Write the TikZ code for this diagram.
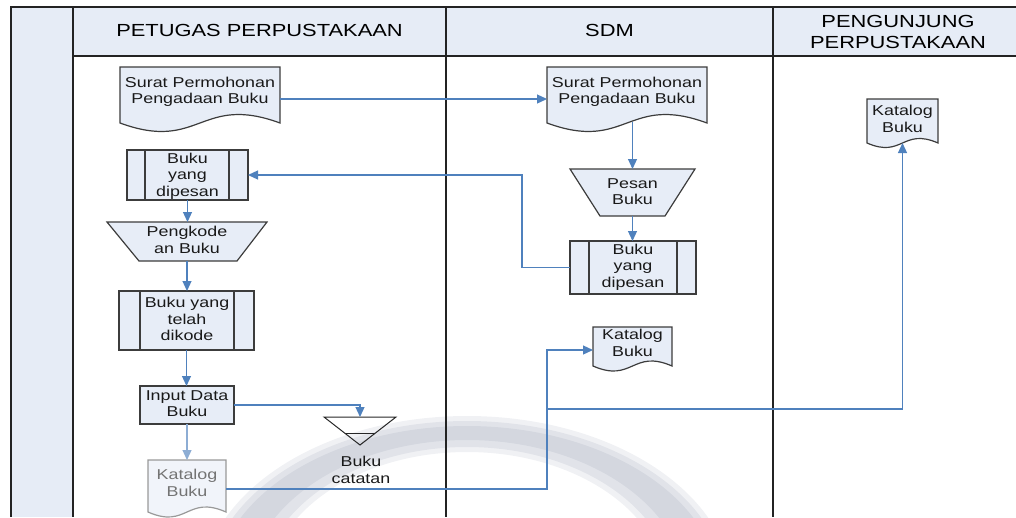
\documentclass[tikz,border=0pt]{standalone}
\usepackage{fontspec}
\setmainfont{Liberation Sans}[FakeStretch=1.25]
\usetikzlibrary{arrows.meta,calc}
\definecolor{lanefill}{RGB}{230,236,246}
\definecolor{shapefill}{RGB}{231,237,247}
\definecolor{conn}{RGB}{79,129,189}
\definecolor{edgec}{RGB}{60,60,60}
\definecolor{laneline}{RGB}{35,35,35}
\definecolor{ringc}{RGB}{172,178,194}
\newcommand{\docshape}[6]{%
 \draw[#1] (#2,#3) -- (#4,#3) -- (#4,#5) .. controls ({(#2+#4)/2},{#5-3.46*#6}) and ({(#2+#4)/2},{#5+3.46*#6}) .. (#2,#5) -- cycle;}
\begin{document}
\begin{tikzpicture}[x=1pt,y=-1pt,
 lane/.style={draw=laneline, line width=1.7pt},
 shp/.style={draw=edgec, fill=shapefill, line width=1.2pt},
 shpfaded/.style={draw=gray!80, fill=shapefill!60, line width=1.2pt},
 inner/.style={draw=edgec, line width=1.2pt},
 box/.style={inner sep=0pt, outer sep=0pt, draw=none},
 txt/.style={font=\fontsize{14.3}{16.5}\selectfont, align=center, inner sep=0pt, text=black!90},
 hdr/.style={font=\fontsize{17.5}{21}\selectfont, align=center, inner sep=0pt, text=black},
 flow/.style={draw=conn, line width=1.2pt, -{Triangle[length=10pt,width=9pt]}},
 flowfaded/.style={draw=conn!65, line width=1.2pt, -{Triangle[length=10pt,width=9pt]}},
 ring/.style={fill=ringc, even odd rule},
]
\useasboundingbox (0,0) rectangle (1016,517);
% lanes
\fill[lanefill] (11,7) rectangle (73,517);
\fill[lanefill] (73,7) rectangle (1016,56);
% watermark ring (soft)
\fill[ring, opacity=0.18] (467,592) ellipse [x radius=266pt, y radius=176pt] (467,592) ellipse [x radius=200pt, y radius=140pt];
\fill[ring, opacity=0.22] (467,592) ellipse [x radius=260pt, y radius=171pt] (467,592) ellipse [x radius=207pt, y radius=145pt];
\fill[ring, opacity=0.25] (467,592) ellipse [x radius=253pt, y radius=166pt] (467,592) ellipse [x radius=220pt, y radius=152pt];
\draw[lane] (11,517) -- (11,7) -- (1016,7);
\draw[lane] (73,7) -- (73,517);
\draw[lane] (446,7) -- (446,517);
\draw[lane] (773,7) -- (773,517);
\draw[lane] (73,56) -- (1016,56);
\node[hdr] (h1) at (259.5,30.3) {PETUGAS PERPUSTAKAAN};
\node[hdr] (h2) at (609.5,30.3) {SDM};
\node[hdr] (h3) at (898,31.5) {PENGUNJUNG\\PERPUSTAKAAN};
% shapes
\docshape{shp}{120}{67}{280}{123}{8.5}
\docshape{shp}{547}{67}{707}{123}{8.5}
\docshape{shp}{593}{327}{672}{366}{5}
\docshape{shp}{867}{99}{938}{143}{4.5}
\docshape{shpfaded}{148}{460}{226}{512}{5}
\draw[shp] (127,150) rectangle (248,200);
\draw[inner] (145,150) -- (145,200) (229,150) -- (229,200);
\draw[shp] (107,222) -- (267,222) -- (237,261) -- (139,261) -- cycle;
\draw[shp] (119,291) rectangle (254,350);
\draw[inner] (140,291) -- (140,350) (234,291) -- (234,350);
\draw[shp] (140,386) rectangle (234,424);
\draw[draw=black!85, line width=1pt, line join=miter] (324,417) -- (396,417) -- (360,445) -- cycle;
\draw[draw=black!85, line width=0.9pt] (345,433) -- (375,433);
\draw[shp] (570,169) -- (695,169) -- (665,216) -- (600,216) -- cycle;
\draw[shp] (570,241) rectangle (696,294);
\draw[inner] (589,241) -- (589,294) (677,241) -- (677,294);
% anchor nodes
\node[box, minimum width=160pt, minimum height=64pt] (A) at (200,99) {};
\node[box, minimum width=121pt, minimum height=50pt] (B) at (187.5,175) {};
\node[box, minimum width=160pt, minimum height=39pt] (C) at (187,241.5) {};
\node[box, minimum width=135pt, minimum height=59pt] (D) at (186.5,320.5) {};
\node[box, minimum width=94pt, minimum height=38pt] (E) at (187,405) {};
\node[box, minimum width=72pt, minimum height=28pt] (F) at (360,431) {};
\node[box, minimum width=78pt, minimum height=58pt] (G) at (187,489) {};
\node[box, minimum width=160pt, minimum height=64pt] (H) at (627,99) {};
\node[box, minimum width=125pt, minimum height=47pt] (I) at (632.5,192.5) {};
\node[box, minimum width=126pt, minimum height=53pt] (J) at (633,267.5) {};
\node[box, minimum width=79pt, minimum height=46pt] (K) at (632.5,350) {};
\node[box, minimum width=71pt, minimum height=44pt] (L) at (902.5,121) {};
\coordinate (Hw) at (632.5,121.5);
\coordinate (jn) at (547,409);
% connectors
\draw[flow] (A.east) -- (H.west);
\draw[flow] (J.west) -- ++(-48,0) |- (B.east);
\draw[flow] (B.south) -- (B.south |- C.north);
\draw[flow] (C.south) -- (C.south |- D.north);
\draw[flow] (D.south) -- (D.south |- E.north);
\draw[flowfaded] (E.south) -- (E.south |- G.north);
\draw[flow] (E.east) -| (F.north);
\draw[flow] (Hw) -- (Hw |- I.north);
\draw[flow] (I.south) -- (I.south |- J.north);
\draw[flow] (G.east) -| (jn) |- (K.west);
\draw[flow] (jn) -| (L.south);
% texts
\node[txt] (tA) at (200,92) {Surat Permohonan\\Pengadaan Buku};
\node[txt] (tH) at (627,92) {Surat Permohonan\\Pengadaan Buku};
\node[txt] (tB) at (187.5,176) {Buku\\yang\\dipesan};
\node[txt] (tC) at (187,240) {Pengkode\\an Buku};
\node[txt] (tD) at (187,319) {Buku yang\\telah\\dikode};
\node[txt] (tE) at (187,403.5) {Input Data\\Buku};
\node[txt] (tF) at (361,470) {Buku\\catatan};
\node[txt, text=black!55] (tG) at (187,483) {Katalog\\Buku};
\node[txt] (tI) at (632.5,191.5) {Pesan\\Buku};
\node[txt] (tJ) at (633,267) {Buku\\yang\\dipesan};
\node[txt] (tK) at (632.5,343) {Katalog\\Buku};
\node[txt] (tL) at (902.5,119) {Katalog\\Buku};
\end{tikzpicture}
\end{document}
